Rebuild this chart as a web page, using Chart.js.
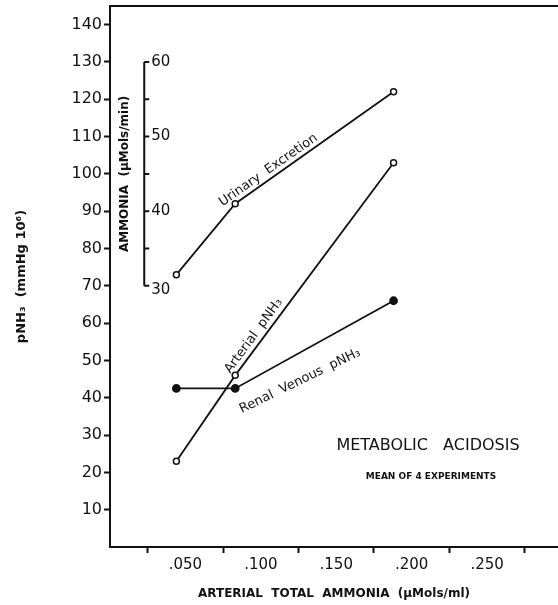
<!DOCTYPE html>
<html>
<head>
<meta charset="utf-8">
<script src="https://cdn.jsdelivr.net/npm/chart.js@4.4.1/dist/chart.umd.min.js"></script>
<style>
  body { margin: 0; background: #fff; overflow: hidden; }
  #wrap { width: 558px; height: 605px; }
  canvas { display: block; }
</style>
</head>
<body>
<div id="wrap"><canvas id="chart" width="558" height="605"></canvas></div>
<script>
// arterial total ammonia (uMols/ml)
const xValues = [0.044, 0.083, 0.188];
// pNH3 (mmHg 10^6)
const arterialPNH3 = [23, 46, 103];
const renalVenousPNH3 = [42.5, 42.5, 66];
// urinary ammonia excretion (uMols/min), inner scale
const urinaryExcretion = [31.5, 41, 56];

const innerAxisTicks = [30, 35, 40, 45, 50, 55, 60];
const innerAxisLabels = [30, 40, 50, 60];
const innerAxisX = 0.0227;

// text written on the chart, in data coordinates
const notes = [
    { text: 'Urinary  Excretion', x: 0.105, y: 101, angle: -35 },
    { text: 'Arterial  pNH\u2083', x: 0.0953, y: 56.6, angle: -54 },
    { text: 'Renal  Venous  pNH\u2083', x: 0.126, y: 44.5, angle: -26 }
];

const ink = '#111';
const font = 'DejaVu Sans';

function toPoints(ys) {
    return xValues.map((x, i) => ({ x: x, y: ys[i] }));
}

const innerAxisPlugin = {
    id: 'innerAxis',
    afterDatasetsDraw(chart) {
        const ctx = chart.ctx;
        const xs = chart.scales.x;
        const y2 = chart.scales.y2;
        const px = xs.getPixelForValue(innerAxisX);
        const top = y2.getPixelForValue(60);
        const bottom = y2.getPixelForValue(30);
        ctx.save();
        ctx.strokeStyle = ink;
        ctx.lineWidth = 2;
        ctx.beginPath();
        ctx.moveTo(px, top);
        ctx.lineTo(px, bottom);
        innerAxisTicks.forEach(v => {
            const py = y2.getPixelForValue(v);
            ctx.moveTo(px, py);
            ctx.lineTo(px + 5, py);
        });
        ctx.stroke();
        ctx.fillStyle = ink;
        ctx.font = '15px "' + font + '"';
        ctx.textBaseline = 'middle';
        ctx.textAlign = 'left';
        innerAxisLabels.forEach(v => {
            const py = y2.getPixelForValue(v);
            ctx.fillText(String(v), px + 7, py + (v === 30 ? 4 : 0));
        });
        ctx.translate(px - 19, y2.getPixelForValue(45));
        ctx.rotate(-Math.PI / 2);
        ctx.textAlign = 'center';
        ctx.font = 'bold 12px "' + font + '"';
        ctx.fillText('AMMONIA  (\u03bcMols/min)', 0, 0);
        ctx.restore();
    }
};

const notesPlugin = {
    id: 'notes',
    afterDatasetsDraw(chart) {
        const ctx = chart.ctx;
        const xs = chart.scales.x;
        const ys = chart.scales.y;
        ctx.save();
        ctx.fillStyle = ink;
        ctx.textAlign = 'center';
        ctx.textBaseline = 'middle';
        notes.forEach(n => {
            ctx.save();
            ctx.translate(xs.getPixelForValue(n.x), ys.getPixelForValue(n.y));
            ctx.rotate(n.angle * Math.PI / 180);
            ctx.font = '13px "' + font + '"';
            ctx.fillText(n.text, 0, 0);
            ctx.restore();
        });
        ctx.font = '16px "' + font + '"';
        ctx.fillText('METABOLIC   ACIDOSIS', 428, 446);
        ctx.font = 'bold 9px "' + font + '"';
        ctx.fillText('MEAN OF 4 EXPERIMENTS', 431, 477);
        ctx.restore();
    }
};

new Chart(document.getElementById('chart'), {
    type: 'scatter',
    data: {
        datasets: [
            {
                label: 'Urinary Excretion',
                data: toPoints(urinaryExcretion),
                yAxisID: 'y2',
                showLine: true,
                borderColor: ink,
                borderWidth: 1.8,
                pointRadius: 3,
                pointBorderWidth: 1.5,
                pointBackgroundColor: '#fff',
                pointBorderColor: ink
            },
            {
                label: 'Arterial pNH3',
                data: toPoints(arterialPNH3),
                showLine: true,
                borderColor: ink,
                borderWidth: 1.8,
                pointRadius: 3,
                pointBorderWidth: 1.5,
                pointBackgroundColor: '#fff',
                pointBorderColor: ink
            },
            {
                label: 'Renal Venous pNH3',
                data: toPoints(renalVenousPNH3),
                showLine: true,
                borderColor: ink,
                borderWidth: 1.8,
                pointRadius: 3.5,
                pointBackgroundColor: ink,
                pointBorderColor: ink
            }
        ]
    },
    options: {
        responsive: false,
        animation: false,
        layout: { autoPadding: false, padding: { top: 6, right: 0, left: 0, bottom: 0 } },
        plugins: {
            legend: { display: false },
            tooltip: { enabled: false }
        },
        scales: {
            x: {
                type: 'linear',
                min: 0,
                max: 0.297,
                afterFit(scale) {
                    scale.height = 58;
                    scale.paddingRight = 0;
                    scale.paddingLeft = 0;
                },
                border: { display: true, color: ink, width: 2 },
                grid: {
                    drawOnChartArea: false,
                    tickLength: 6,
                    tickWidth: 2,
                    tickColor: c => (Math.round(c.tick.value / 0.025) % 2 === 1 ? ink : 'rgba(0,0,0,0)')
                },
                ticks: {
                    stepSize: 0.025,
                    includeBounds: false,
                    autoSkip: false,
                    maxRotation: 0,
                    color: ink,
                    font: { family: font, size: 15 },
                    padding: 3,
                    callback: v => {
                        const k = Math.round(v / 0.025);
                        if (k === 0 || k % 2 === 1) return '';
                        return '.' + String(Math.round(v * 1000)).padStart(3, '0');
                    }
                },
                title: {
                    display: true,
                    text: 'ARTERIAL  TOTAL  AMMONIA  (\u03bcMols/ml)',
                    color: ink,
                    font: { family: font, size: 12, weight: 'bold' },
                    padding: { top: 10 }
                }
            },
            x2: {
                type: 'linear',
                position: 'top',
                min: 0,
                max: 0.297,
                afterFit(scale) {
                    scale.height = 0;
                    scale.paddingRight = 0;
                    scale.paddingLeft = 0;
                },
                border: { display: true, color: ink, width: 2 },
                grid: { display: false },
                ticks: { display: false }
            },
            y: {
                min: 0,
                max: 145,
                afterFit(scale) {
                    scale.width = 110;
                    scale.paddingTop = 0;
                    scale.paddingBottom = 0;
                },
                border: { display: true, color: ink, width: 2 },
                grid: {
                    drawOnChartArea: false,
                    tickLength: 6,
                    tickWidth: 2,
                    tickColor: c => (c.tick.value === 0 ? 'rgba(0,0,0,0)' : ink)
                },
                ticks: {
                    stepSize: 10,
                    includeBounds: false,
                    color: ink,
                    font: { family: font, size: 16 },
                    padding: 2,
                    callback: v => (v === 0 ? '' : String(v))
                },
                title: {
                    display: true,
                    text: 'pNH\u2083  (mmHg 10\u2076)',
                    color: ink,
                    font: { family: font, size: 13, weight: 'bold' },
                    padding: { top: 14, bottom: 0 }
                }
            },
            y2: {
                display: false,
                min: -5,
                max: 67.5
            }
        }
    },
    plugins: [innerAxisPlugin, notesPlugin]
});
</script>
</body>
</html>
